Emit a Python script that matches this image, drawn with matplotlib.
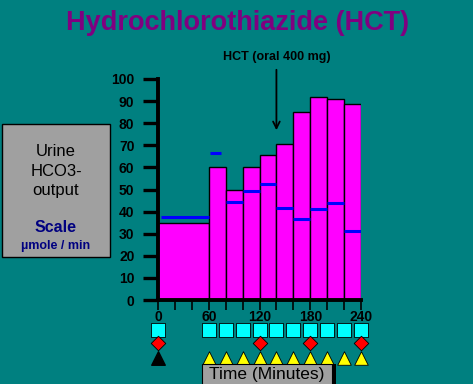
import matplotlib
matplotlib.use("Agg")
import matplotlib.pyplot as plt
from matplotlib.patches import Rectangle
import numpy as np

# collection periods (minutes) and urine HCO3 output (umole/min)
period_start = [0, 60, 80, 100, 120, 140, 160, 180, 200, 220]
period_end = [60, 80, 100, 120, 140, 160, 180, 200, 220, 240]
hco3_output = [35, 60, 50, 60, 65.5, 70.5, 85, 92, 91, 88.5]
reference_level = [37.5, 66.5, 44.5, 49.5, 52.5, 41.5, 36.5, 41, 44, 31]

# sampling marks under the time axis
urine_times = [0, 60, 80, 100, 120, 140, 160, 180, 200, 220, 240]
blood_times = [0, 120, 180, 240]
start_time = [0]
infusion_times = [60, 80, 100, 120, 140, 160, 180, 200, 220, 240]

dose_time = 140
dose_label = "HCT (oral 400 mg)"
title = "Hydrochlorothiazide (HCT)"

W, H = 473, 384
TEAL = "#008080"
plt.rcParams["font.family"] = ["Liberation Sans", "DejaVu Sans"]

fig = plt.figure(figsize=(W / 100, H / 100), dpi=100, facecolor=TEAL)

def fx(px):
    return px / W

def fy(py):
    return 1 - py / H

# main axes placed in pixel units
x0, x1, y0, y1 = 158, 361, 300, 79
ax = fig.add_axes([fx(x0), fy(y0), (x1 - x0) / W, (y0 - y1) / H])
ax.set_facecolor(TEAL)
ax.set_xlim(0, 240)
ax.set_ylim(0, 100)
unit = (y0 - y1) / 100.0  # pixels per y unit

widths = np.array(period_end) - np.array(period_start)
ax.bar(period_start, hco3_output, width=widths, align="edge",
       color="#ff00ff", edgecolor="black", linewidth=1.0, zorder=2)

# blue reference levels
for i in range(len(period_start)):
    a, b = period_start[i], period_end[i]
    if i == 0:
        a = a + 3
    if i == 1:
        a, b = a + 1, b - 5
    ax.plot([a, b], [reference_level[i]] * 2, color="#0000ff", lw=2.2,
            solid_capstyle="butt", zorder=3)

for s in ["top", "right"]:
    ax.spines[s].set_visible(False)
ax.spines["left"].set_linewidth(2.8)
ax.spines["bottom"].set_linewidth(2.8)
ax.spines["left"].set_zorder(4)

ax.set_yticks(range(0, 101, 10))
ax.tick_params(axis="y", direction="out", length=11, width=2.4, pad=6,
               labelsize=10)
ax.set_xticks([0, 60, 120, 180, 240])
ax.set_xticks(range(0, 241, 20), minor=True)
ax.tick_params(axis="x", which="both", direction="out", length=7, width=1.2,
               pad=0, labelsize=10)
for lab in ax.get_xticklabels() + ax.get_yticklabels():
    lab.set_fontweight("bold")

# marker rows below the axis
def row(py):
    return -(py - y0) / unit

ax.scatter(urine_times, [row(330)] * len(urine_times), marker="s", s=95,
           color="#00ffff", edgecolor="black", linewidth=0.6, clip_on=False, zorder=5)
ax.scatter(blood_times, [row(343)] * len(blood_times), marker="D", s=55,
           color="#ff0000", edgecolor="black", linewidth=0.6, clip_on=False, zorder=5)
ax.scatter(start_time, [row(358)], marker="^", s=95, color="black",
           clip_on=False, zorder=5)
ax.scatter(infusion_times, [row(358)] * len(infusion_times), marker="^", s=95,
           color="#ffff00", edgecolor="black", linewidth=0.6, clip_on=False, zorder=5)

# dose arrow
ax.annotate("", xy=(dose_time, row(133)), xytext=(dose_time, row(67)),
            arrowprops=dict(arrowstyle="->", color="black", lw=1.3,
                            mutation_scale=12), annotation_clip=False)
ax.text(dose_time, row(57), dose_label, ha="center", va="center",
        fontsize=9, fontweight="bold", clip_on=False)

fig.text(fx(238), fy(23), title, ha="center", va="center", fontsize=19.5,
         fontweight="bold", color="#800080")

# left legend box
fig.patches.append(Rectangle((fx(2), fy(257)), fx(108), (257 - 124) / H,
                             transform=fig.transFigure, facecolor="#a0a0a0",
                             edgecolor="black", linewidth=1.0))
for txt, py in [("Urine", 152), ("HCO3-", 171), ("output", 190)]:
    fig.text(fx(56), fy(py), txt, ha="center", va="center", fontsize=12)
fig.text(fx(56), fy(228), "Scale", ha="center", va="center", fontsize=11.5,
         fontweight="bold", color="#000080")
fig.text(fx(56), fy(246), "µmole / min", ha="center", va="center", fontsize=9,
         fontweight="bold", color="#000080")

# time label box with shadow
fig.patches.append(Rectangle((fx(206), fy(388)), fx(130), 24 / H,
                             transform=fig.transFigure, facecolor="black",
                             edgecolor="none"))
fig.patches.append(Rectangle((fx(202), fy(386)), fx(130), 22 / H,
                             transform=fig.transFigure, facecolor="#a0a0a0",
                             edgecolor="black", linewidth=0.8))
fig.text(fx(267), fy(375), "Time (Minutes)", ha="center", va="center",
         fontsize=12.5)

fig.savefig("out.png", dpi=100, facecolor=TEAL)
